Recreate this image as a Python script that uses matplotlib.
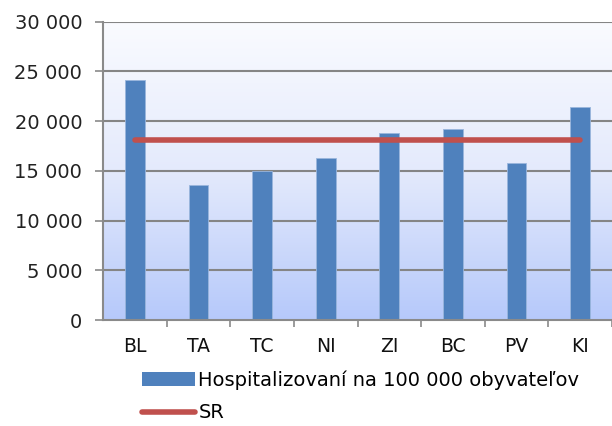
import matplotlib
matplotlib.use("Agg")
import matplotlib.pyplot as plt
import numpy as np
from matplotlib.lines import Line2D
from matplotlib.patches import Patch
from matplotlib.colors import LinearSegmentedColormap

categories = ["BL", "TA", "TC", "NI", "ZI", "BC", "PV", "KI"]
hospitalized = [24100, 13600, 15000, 16300, 18850, 19250, 15800, 21450]
sr_value = 18100
y_ticks = [0, 5000, 10000, 15000, 20000, 25000, 30000]
y_labels = ["0", "5 000", "10 000", "15 000", "20 000", "25 000", "30 000"]
series_label = "Hospitalizovaní na 100 000 obyvateľov"
sr_label = "SR"

plt.rcParams['font.family'] = ['DejaVu Sans']

fig = plt.figure(figsize=(6.12, 4.26), dpi=100)
ax = fig.add_axes([103/612, 1-320/426, 1-103/612, (320-21.7)/426])

x = np.arange(len(categories))

# gradient background (white at top, light blue at bottom)
grad = np.linspace(1, 0, 256).reshape(-1, 1)
cmap = LinearSegmentedColormap.from_list("bg", ["#fafbff", "#e4eafc", "#b6c9fa"])
ax.imshow(grad, aspect='auto', cmap=cmap, extent=(-0.5, len(categories)-0.5, 0, 30000),
          origin='lower', zorder=0, interpolation='bilinear')
ax.set_xlim(-0.5, len(categories)-0.5)
ax.set_ylim(0, 30000)

for t in y_ticks[1:]:
    ax.axhline(t, color="#858585", lw=1.5, zorder=1)

ax.bar(x, hospitalized, width=0.31, color="#4f81bd", edgecolor="#9ab6dd", linewidth=0.6, zorder=2)
ax.plot([x[0], x[-1]], [sr_value, sr_value], color="#c0504d", lw=4.0, solid_capstyle='round', zorder=3)

ax.set_yticks(y_ticks)
ax.set_yticklabels(y_labels, fontsize=14, color="#222222")
ax.set_xticks(x)
ax.set_xticklabels(categories, fontsize=13.5, color="#111111")
ax.set_xticks(np.arange(len(categories)) + 0.5, minor=True)
ax.tick_params(axis='x', which='major', length=0, pad=12)
ax.tick_params(axis='x', which='minor', length=5, width=1.2, color="#8a8a8a")
ax.tick_params(axis='y', length=6, width=1.2, color="#8a8a8a", pad=9)

for s in ['top', 'right']:
    ax.spines[s].set_visible(False)
ax.spines['left'].set_color("#8a8a8a")
ax.spines['left'].set_linewidth(1.5)
ax.spines['bottom'].set_color("#8a8a8a")
ax.spines['bottom'].set_linewidth(1.5)

handles = [Patch(facecolor="#4f81bd", edgecolor="none", label=series_label),
           Line2D([0], [0], color="#c0504d", lw=4.0, solid_capstyle='round', label=sr_label)]
fig.legend(handles=handles, loc='upper left', bbox_to_anchor=(142/612, 1-370/426),
           frameon=False, fontsize=14, handlelength=2.75, handletextpad=0.15,
           labelspacing=0.72, borderaxespad=0, borderpad=0)

fig.savefig("out.png", dpi=100)
